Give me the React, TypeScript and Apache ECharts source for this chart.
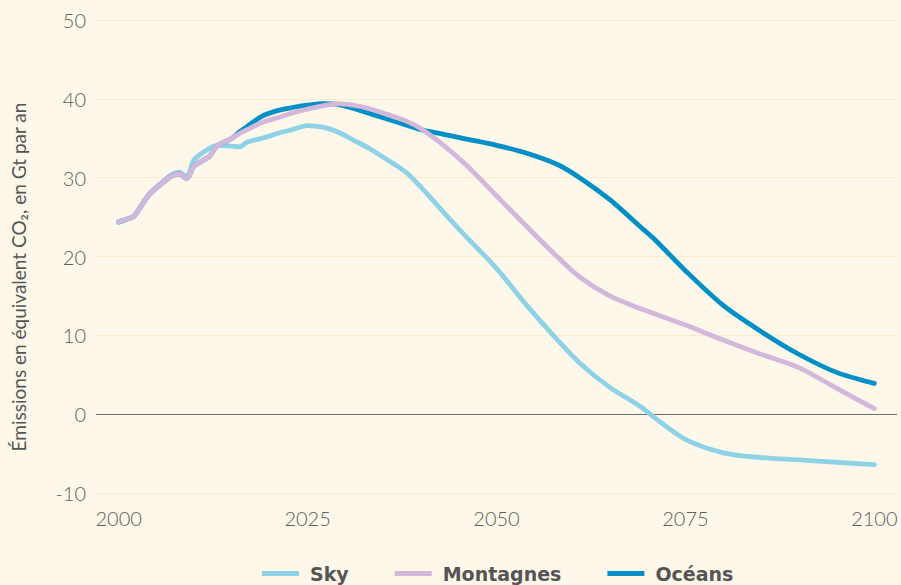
import React, { useEffect, useRef } from "react";
import * as echarts from "echarts";

const years = [2000, 2001, 2002, 2004, 2006, 2007, 2008, 2009, 2010, 2012, 2013, 2015, 2016, 2017, 2019, 2021, 2023, 2025, 2027, 2029, 2031, 2033, 2035, 2038, 2040, 2043, 2046, 2050, 2054, 2058, 2061, 2065, 2069, 2071, 2075, 2080, 2085, 2090, 2095, 2100];

const sky = [24.3, 24.7, 25.1, 27.9, 29.6, 30.4, 30.7, 30.1, 32.3, 33.7, 34.1, 34.0, 33.9, 34.5, 35.0, 35.6, 36.1, 36.6, 36.4, 35.8, 34.8, 33.8, 32.6, 30.7, 28.8, 25.6, 22.5, 18.5, 13.8, 9.5, 6.5, 3.4, 1.0, -0.5, -3.2, -4.9, -5.5, -5.8, -6.1, -6.4];

const montagnes = [24.4, 24.7, 25.1, 27.8, 29.5, 30.2, 30.5, 29.9, 31.5, 32.7, 34.0, 35.0, 35.6, 36.1, 37.0, 37.6, 38.2, 38.7, 39.1, 39.4, 39.2, 38.8, 38.2, 37.2, 36.2, 34.1, 31.6, 27.7, 23.8, 20.0, 17.4, 15.0, 13.4, 12.7, 11.3, 9.4, 7.6, 5.9, 3.3, 0.7];

const oceans = [24.4, 24.7, 25.1, 27.8, 29.5, 30.2, 30.5, 29.9, 31.5, 32.7, 34.0, 35.0, 35.8, 36.5, 37.8, 38.5, 38.9, 39.2, 39.4, 39.3, 38.8, 38.2, 37.6, 36.7, 36.1, 35.5, 34.9, 34.1, 33.1, 31.7, 30.0, 27.2, 23.8, 22.1, 18.2, 13.8, 10.5, 7.6, 5.3, 3.9];

const xTicks = [2000, 2025, 2050, 2075, 2100];
const seriesNames = ["Sky", "Montagnes", "Océans"];
const yTitle = "Émissions en équivalent CO₂, en Gt par an";

const pairs = (vals: number[]) => years.map((y, i) => [y, vals[i]]);

export default function App() {
  const ref = useRef<HTMLDivElement>(null);
  useEffect(() => {
    if (!ref.current) return;
    const chart = echarts.init(ref.current, null, { renderer: "svg" });
    const font = "Lato, 'Open Sans', sans-serif";
    const grid = "#fcebcb";
    const lineStyle = (color: string) => ({ color, width: 4.8, cap: "round" as const, join: "round" as const });
    chart.setOption({
      animation: false,
      backgroundColor: "#fdf8ea",
      grid: { left: 96, right: 4, top: 20, bottom: 92 },
      legend: {
        data: seriesNames,
        bottom: 2,
        left: 262,
        padding: 0,
        icon: "rect",
        itemWidth: 37,
        itemHeight: 5,
        itemGap: 46,
        textStyle: {
          fontFamily: "'DejaVu Sans', sans-serif",
          fontSize: 19,
          fontWeight: "bold",
          color: "#555",
          padding: [0, 0, 0, 6],
        },
      },
      xAxis: {
        type: "value",
        min: 1997,
        max: 2103,
        axisLine: { show: false },
        axisTick: { show: false },
        splitLine: { show: false },
        axisLabel: {
          customValues: xTicks,
          formatter: (v: number) => String(v),
          fontFamily: font,
          fontSize: 20,
          fontWeight: 300,
          color: "#5f5f5f",
          margin: 15,
        },
      },
      yAxis: {
        type: "value",
        min: -10,
        max: 50,
        interval: 10,
        axisLine: { show: false },
        axisTick: { show: false },
        axisLabel: { fontFamily: font, fontSize: 20, fontWeight: 300, color: "#5f5f5f", margin: 10 },
        splitLine: {
          lineStyle: { color: [grid, "#6e6e6e", grid, grid, grid, grid, grid], width: 1.2 },
        },
      },
      graphic: [
        {
          type: "text",
          x: 18,
          y: 277,
          rotation: Math.PI / 2,
          style: {
            text: yTitle,
            fontFamily: font,
            fontSize: 19,
            fill: "#555",
            align: "center",
            verticalAlign: "middle",
          },
        },
      ],
      series: [
        {
          name: "Sky",
          type: "line",
          data: pairs(sky),
          showSymbol: false,
          smooth: 0.3,
          color: "#8fd2e6",
          lineStyle: lineStyle("#8fd2e6"),
          z: 2,
        },
        {
          name: "Océans",
          type: "line",
          data: pairs(oceans),
          showSymbol: false,
          smooth: 0.3,
          color: "#0090c6",
          lineStyle: lineStyle("#0090c6"),
          z: 3,
        },
        {
          name: "Montagnes",
          type: "line",
          data: pairs(montagnes),
          showSymbol: false,
          smooth: 0.3,
          color: "#d3b8db",
          lineStyle: lineStyle("#d3b8db"),
          z: 4,
        },
      ],
    });
    return () => chart.dispose();
  }, []);
  return <div ref={ref} style={{ position: "fixed", left: 0, top: 0, width: 901, height: 585 }} />;
}
